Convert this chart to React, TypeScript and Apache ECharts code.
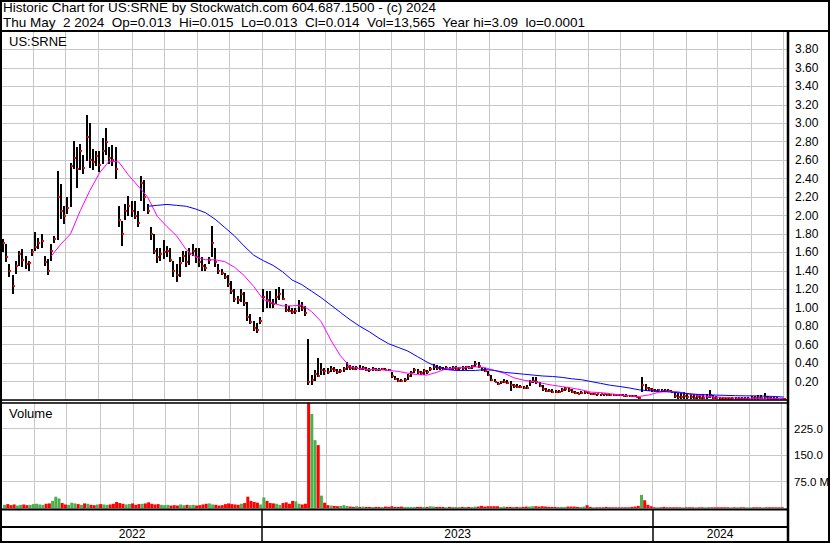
import React, { useEffect, useRef } from 'react';
import * as echarts from 'echarts';

// ---------- texts ----------
const headerLine1 = 'Historic Chart for US:SRNE by Stockwatch.com 604.687.1500 - (c) 2024';
const headerLine2 =
  'Thu May\u00a0 2 2024\u00a0 Op=0.013\u00a0 Hi=0.015\u00a0 Lo=0.013\u00a0 Cl=0.014\u00a0 Vol=13,565\u00a0 Year hi=3.09\u00a0 lo=0.0001';
const symbolLabel = 'US:SRNE';
const volumeLabel = 'Volume';
const volumeUnit = 'M';

// ---------- time frame ----------
const axisStart = '2022-05-03';
const axisEnd = '2024-05-05';
const firstBarDate = '2022-05-04';
const barStepDays = 3;
const maStepBars = 3;
const years = [2022, 2023, 2024];
const monthStarts = [
  '2022-06-01', '2022-07-01', '2022-08-01', '2022-09-01', '2022-10-01', '2022-11-01', '2022-12-01',
  '2023-01-01', '2023-02-01', '2023-03-01', '2023-04-01', '2023-05-01', '2023-06-01', '2023-07-01',
  '2023-08-01', '2023-09-01', '2023-10-01', '2023-11-01', '2023-12-01', '2024-01-01', '2024-02-01',
  '2024-03-01', '2024-04-01', '2024-05-01',
];

// ---------- price bars (every 3 days) ----------
const highs = [
  1.74, 1.69, 1.47, 1.36, 1.51, 1.62, 1.64, 1.56, 1.51, 1.64,
  1.82, 1.76, 1.80, 1.56, 1.53, 1.69, 1.78, 2.48, 2.34, 2.10,
  2.20, 2.57, 2.81, 2.74, 2.77, 2.66, 3.09, 3.00, 2.72, 2.70,
  2.70, 2.84, 2.95, 2.74, 2.76, 2.74, 2.10, 1.94, 2.12, 2.21,
  2.16, 2.16, 2.05, 2.43, 2.39, 2.12, 1.87, 1.80, 1.65, 1.65,
  1.73, 1.67, 1.65, 1.51, 1.47, 1.55, 1.62, 1.62, 1.65, 1.69,
  1.65, 1.65, 1.55, 1.47, 1.55, 1.89, 1.65, 1.47, 1.42, 1.38,
  1.35, 1.29, 1.20, 1.13, 1.20, 1.17, 1.06, 0.93, 0.86, 0.84,
  0.90, 1.20, 1.18, 1.18, 1.10, 1.20, 1.22, 1.20, 1.04, 1.02,
  1.00, 1.00, 1.08, 1.06, 1.02, 0.66, 0.27, 0.32, 0.46, 0.40,
  0.35, 0.35, 0.37, 0.36, 0.34, 0.34, 0.36, 0.41, 0.38, 0.37,
  0.37, 0.38, 0.37, 0.36, 0.35, 0.36, 0.35, 0.35, 0.35, 0.35,
  0.34, 0.30, 0.26, 0.24, 0.23, 0.24, 0.28, 0.31, 0.35, 0.34,
  0.31, 0.34, 0.33, 0.36, 0.39, 0.38, 0.37, 0.36, 0.37, 0.36,
  0.37, 0.37, 0.36, 0.37, 0.37, 0.37, 0.38, 0.42, 0.41, 0.36,
  0.35, 0.31, 0.27, 0.23, 0.20, 0.21, 0.23, 0.22, 0.21, 0.17,
  0.17, 0.16, 0.15, 0.16, 0.22, 0.25, 0.25, 0.19, 0.16, 0.13,
  0.12, 0.12, 0.11, 0.11, 0.13, 0.14, 0.13, 0.12, 0.10, 0.09,
  0.10, 0.10, 0.09, 0.075, 0.075, 0.07, 0.07, 0.07, 0.07, 0.065,
  0.065, 0.06, 0.06, 0.06, 0.06, 0.055, 0.05, 0.05, 0.03, 0.25,
  0.17, 0.14, 0.13, 0.12, 0.12, 0.12, 0.12, 0.12, 0.11, 0.09,
  0.08, 0.08, 0.09, 0.08, 0.07, 0.07, 0.07, 0.06, 0.06, 0.06,
  0.11, 0.05, 0.04, 0.035, 0.035, 0.03, 0.03, 0.03, 0.03, 0.03,
  0.035, 0.03, 0.035, 0.04, 0.045, 0.05, 0.05, 0.08, 0.04, 0.035,
  0.03, 0.03, 0.025, 0.02,
];
const lows = [
  1.60, 1.50, 1.33, 1.15, 1.37, 1.45, 1.44, 1.42, 1.40, 1.56,
  1.62, 1.64, 1.65, 1.45, 1.35, 1.51, 1.70, 1.73, 1.96, 1.91,
  2.02, 2.09, 2.50, 2.30, 2.49, 2.45, 2.59, 2.52, 2.49, 2.54,
  2.47, 2.56, 2.66, 2.56, 2.54, 2.40, 1.88, 1.67, 1.95, 2.00,
  1.98, 1.96, 1.88, 2.16, 2.05, 2.02, 1.73, 1.58, 1.49, 1.51,
  1.53, 1.55, 1.50, 1.33, 1.28, 1.33, 1.50, 1.44, 1.46, 1.56,
  1.49, 1.44, 1.40, 1.40, 1.47, 1.55, 1.44, 1.37, 1.35, 1.31,
  1.22, 1.15, 1.06, 1.04, 1.06, 1.02, 0.86, 0.82, 0.75, 0.73,
  0.82, 0.95, 1.00, 1.00, 1.00, 1.04, 1.08, 1.08, 0.95, 0.95,
  0.93, 0.93, 0.95, 0.97, 0.91, 0.16, 0.16, 0.21, 0.25, 0.27,
  0.27, 0.28, 0.30, 0.30, 0.28, 0.29, 0.30, 0.32, 0.33, 0.32,
  0.32, 0.32, 0.32, 0.31, 0.30, 0.31, 0.31, 0.31, 0.32, 0.32,
  0.31, 0.24, 0.22, 0.20, 0.19, 0.20, 0.22, 0.25, 0.29, 0.28,
  0.27, 0.27, 0.28, 0.31, 0.33, 0.33, 0.33, 0.32, 0.33, 0.32,
  0.33, 0.33, 0.33, 0.33, 0.33, 0.34, 0.34, 0.36, 0.35, 0.31,
  0.30, 0.26, 0.21, 0.19, 0.16, 0.17, 0.18, 0.17, 0.10, 0.13,
  0.13, 0.13, 0.12, 0.12, 0.15, 0.18, 0.17, 0.14, 0.10, 0.09,
  0.09, 0.08, 0.08, 0.08, 0.09, 0.10, 0.09, 0.08, 0.07, 0.06,
  0.07, 0.07, 0.07, 0.055, 0.055, 0.055, 0.055, 0.05, 0.05, 0.045,
  0.045, 0.045, 0.04, 0.04, 0.035, 0.035, 0.03, 0.03, 0.01, 0.09,
  0.10, 0.10, 0.09, 0.09, 0.09, 0.09, 0.09, 0.085, 0.085, 0.02,
  0.01, 0.01, 0.01, 0.01, 0.01, 0.01, 0.01, 0.01, 0.01, 0.01,
  0.02, 0.01, 0.01, 0.005, 0.005, 0.005, 0.005, 0.005, 0.005, 0.005,
  0.005, 0.005, 0.005, 0.005, 0.005, 0.005, 0.01, 0.01, 0.005, 0.005,
  0.005, 0.005, 0.005, 0.005,
];
const closes = [
  1.70, 1.55, 1.40, 1.24, 1.45, 1.58, 1.52, 1.47, 1.48, 1.60,
  1.66, 1.70, 1.72, 1.50, 1.40, 1.62, 1.74, 2.20, 2.05, 2.00,
  2.08, 2.54, 2.62, 2.50, 2.70, 2.52, 2.85, 2.60, 2.58, 2.65,
  2.55, 2.70, 2.80, 2.62, 2.60, 2.50, 1.95, 1.80, 2.05, 2.10,
  2.05, 2.00, 1.92, 2.35, 2.20, 2.05, 1.80, 1.62, 1.55, 1.58,
  1.60, 1.62, 1.52, 1.40, 1.35, 1.48, 1.56, 1.50, 1.58, 1.62,
  1.55, 1.50, 1.45, 1.43, 1.52, 1.70, 1.50, 1.40, 1.38, 1.33,
  1.26, 1.18, 1.10, 1.08, 1.15, 1.05, 0.90, 0.85, 0.78, 0.76,
  0.86, 1.12, 1.08, 1.05, 1.04, 1.12, 1.15, 1.10, 0.98, 0.97,
  0.95, 0.96, 1.02, 1.00, 0.94, 0.20, 0.22, 0.28, 0.26, 0.33,
  0.31, 0.30, 0.34, 0.32, 0.30, 0.31, 0.34, 0.36, 0.35, 0.34,
  0.35, 0.34, 0.35, 0.33, 0.32, 0.34, 0.33, 0.33, 0.34, 0.33,
  0.32, 0.26, 0.23, 0.21, 0.21, 0.22, 0.26, 0.29, 0.32, 0.30,
  0.29, 0.31, 0.30, 0.34, 0.36, 0.35, 0.35, 0.34, 0.35, 0.34,
  0.35, 0.34, 0.35, 0.35, 0.36, 0.35, 0.37, 0.39, 0.37, 0.33,
  0.31, 0.27, 0.22, 0.20, 0.17, 0.19, 0.20, 0.18, 0.16, 0.15,
  0.14, 0.14, 0.13, 0.13, 0.19, 0.21, 0.19, 0.15, 0.12, 0.10,
  0.10, 0.09, 0.09, 0.09, 0.11, 0.12, 0.11, 0.09, 0.08, 0.07,
  0.08, 0.09, 0.08, 0.06, 0.065, 0.06, 0.06, 0.06, 0.055, 0.055,
  0.05, 0.05, 0.05, 0.045, 0.045, 0.04, 0.04, 0.035, 0.02, 0.16,
  0.13, 0.12, 0.11, 0.10, 0.11, 0.10, 0.10, 0.10, 0.09, 0.04,
  0.03, 0.03, 0.04, 0.03, 0.03, 0.02, 0.03, 0.02, 0.02, 0.03,
  0.05, 0.02, 0.02, 0.015, 0.015, 0.015, 0.01, 0.015, 0.01, 0.015,
  0.015, 0.01, 0.015, 0.02, 0.02, 0.02, 0.02, 0.03, 0.02, 0.015,
  0.015, 0.015, 0.015, 0.014,
];
// volume, millions of shares
const volumes = [
  9, 11, 8, 10, 7, 9, 10, 8, 9, 11,
  12, 10, 9, 12, 13, 20, 32, 27, 14, 10,
  9, 15, 13, 11, 9, 13, 12, 9, 8, 10,
  11, 10, 9, 10, 12, 17, 14, 12, 10, 11,
  13, 9, 11, 12, 13, 16, 12, 10, 11, 9,
  8, 9, 7, 8, 7, 10, 8, 9, 8, 9,
  7, 8, 10, 12, 13, 10, 9, 7, 8, 11,
  13, 11, 10, 9, 12, 14, 32, 20, 17, 15,
  10, 30, 20, 14, 13, 12, 9, 14, 16, 12,
  20, 19, 12, 10, 12, 298, 266, 192, 178, 35,
  15, 8, 7, 6, 5, 6, 8, 6, 4, 3,
  5, 3, 4, 3, 3, 3, 3, 3, 3, 4,
  3, 5, 3, 3, 4, 3, 3, 3, 3, 3,
  3, 3, 3, 5, 4, 3, 3, 3, 2, 3,
  3, 2, 3, 3, 3, 3, 3, 4, 4, 6,
  4, 5, 5, 5, 5, 3, 4, 3, 3, 2,
  3, 2, 3, 4, 4, 5, 5, 4, 5, 4,
  3, 3, 3, 2, 3, 3, 4, 4, 4, 3,
  3, 4, 8, 3, 2, 2, 2, 2, 3, 2,
  2, 2, 2, 2, 2, 2, 3, 4, 6, 37,
  22, 9, 5, 2, 2, 2, 3, 2, 2, 2,
  2, 2, 2, 2, 2, 2, 2, 2, 2, 2,
  3, 2, 2, 2, 2, 2, 2, 2, 2, 2,
  2, 2, 2, 2, 2, 2, 2, 2, 2, 2,
  2, 2, 2, 2,
];

// ---------- moving averages (one value every 3 bars) ----------
const maShort = [
  null, null, null, null, null, 1.56, 1.69, 1.80, 2.05, 2.27,
  2.46, 2.59, 2.58, 2.44, 2.32, 2.20, 1.99, 1.88, 1.78, 1.63,
  1.55, 1.52, 1.52, 1.50, 1.44, 1.35, 1.23, 1.09, 1.05, 1.02,
  1.02, 1.03, 0.96, 0.85, 0.65, 0.48, 0.36, 0.34, 0.33, 0.33,
  0.32, 0.31, 0.29, 0.275, 0.27, 0.30, 0.34, 0.35, 0.35, 0.36,
  0.35, 0.32, 0.29, 0.24, 0.215, 0.20, 0.18, 0.16, 0.145, 0.13,
  0.11, 0.085, 0.08, 0.068, 0.056, 0.045, 0.038, 0.055, 0.083, 0.093,
  0.09, 0.067, 0.052, 0.04, 0.032, 0.027, 0.022, 0.02, 0.02, 0.02,
  0.018, 0.016,
];
const maLong = [
  null, null, null, null, null, null, null, null, null, null,
  null, null, null, null, null, 2.10, 2.11, 2.12, 2.11, 2.10,
  2.07, 2.03, 1.96, 1.87, 1.78, 1.67, 1.57, 1.51, 1.46, 1.39,
  1.30, 1.25, 1.18, 1.11, 1.03, 0.95, 0.87, 0.80, 0.74, 0.67,
  0.61, 0.57, 0.53, 0.47, 0.41, 0.36, 0.33, 0.32, 0.32, 0.32,
  0.33, 0.32, 0.30, 0.29, 0.28, 0.27, 0.26, 0.255, 0.245, 0.23,
  0.22, 0.20, 0.18, 0.16, 0.146, 0.13, 0.11, 0.10, 0.096, 0.088,
  0.08, 0.07, 0.061, 0.057, 0.053, 0.05, 0.047, 0.045, 0.045, 0.042,
  0.038, 0.032,
];

// ---------- axis ticks ----------
const priceMax = 4;
const priceStep = 0.2;
const volMax = 300;
const volStep = 75;

const FONT = 'Arial, "Liberation Sans", sans-serif';
const GRID_COLOR = '#c8c8c8';

const addDays = (s: string, n: number) => {
  const [y, m, d] = s.split('-').map(Number);
  return new Date(y, m - 1, d + n).getTime();
};

export default function App() {
  const ref = useRef<HTMLDivElement>(null);

  useEffect(() => {
    if (!ref.current) return;
    const chart = echarts.init(ref.current, undefined, { renderer: 'svg' });

    const axisMin = addDays(axisStart, 0);
    const axisMax = addDays(axisEnd, 0);
    const barTs = highs.map((_, i) => addDays(firstBarDate, i * barStepDays));
    const monthTs = monthStarts.map((s) => addDays(s, 0));

    const ohlcData = barTs.map((t, i) => [t, highs[i], lows[i], closes[i]]);
    const volData = barTs.map((t, i) => [t, volumes[i]]);
    const maShortData = maShort.map((v, k) => [barTs[k * maStepBars], v == null ? '-' : v]);
    const maLongData = maLong.map((v, k) => [barTs[k * maStepBars], v == null ? '-' : v]);

    const gridLineSeries = (idx: number, top: number) => ({
      type: 'custom',
      xAxisIndex: idx,
      yAxisIndex: idx,
      silent: true,
      z: 1,
      clip: false,
      data: monthTs.map((t) => [t, 0]),
      renderItem: (_p: any, api: any) => {
        const a = api.coord([api.value(0), top]);
        const b = api.coord([api.value(0), 0]);
        const x = Math.round(a[0]) + 0.5;
        return {
          type: 'line',
          shape: { x1: x, y1: a[1], x2: x, y2: b[1] },
          style: { stroke: GRID_COLOR, lineWidth: 1 },
        };
      },
    });

    const hLine = (x1: number, y1: number, x2: number, y2: number, w: number) => ({
      type: 'line',
      z: 100,
      silent: true,
      shape: { x1, y1, x2, y2 },
      style: { stroke: '#000', lineWidth: w },
    });

    const txt = (text: string, x: number, y: number, size: number) => ({
      type: 'text',
      z: 100,
      silent: true,
      x,
      y,
      style: {
        text,
        fill: '#000',
        font: `${size}px ${FONT}`,
        align: 'left',
        verticalAlign: 'middle',
        textAlign: 'left',
        textVerticalAlign: 'middle',
      },
    });

    const gridBase = { left: 2, right: 43, outerBoundsMode: 'none', containLabel: false };

    const option: any = {
      animation: false,
      backgroundColor: '#ffffff',
      grid: [
        { ...gridBase, top: 31, height: 369 },
        { ...gridBase, top: 402, height: 106 },
        { ...gridBase, top: 509, height: 33 },
      ],
      xAxis: [0, 1, 2].map((g) => ({
        type: 'time',
        gridIndex: g,
        min: axisMin,
        max: axisMax,
        show: false,
        splitLine: { show: false },
      })),
      yAxis: [
        {
          gridIndex: 0,
          type: 'value',
          position: 'right',
          min: 0,
          max: priceMax,
          interval: priceStep,
          axisLine: { show: false },
          axisTick: { show: false },
          splitLine: { show: true, lineStyle: { color: GRID_COLOR, width: 1 } },
          axisLabel: {
            margin: 8,
            color: '#000',
            fontSize: 12,
            fontFamily: FONT,
            hideOverlap: false,
            formatter: (v: number) => (v > 0.01 && v < priceMax - 0.01 ? v.toFixed(2) : ''),
          },
        },
        {
          gridIndex: 1,
          type: 'value',
          position: 'right',
          min: 0,
          max: volMax,
          interval: volStep,
          axisLine: { show: false },
          axisTick: { show: false },
          splitLine: { show: true, lineStyle: { color: GRID_COLOR, width: 1 } },
          axisLabel: {
            margin: 7,
            color: '#000',
            fontSize: 11.5,
            fontFamily: FONT,
            hideOverlap: false,
            formatter: (v: number) => {
              if (v <= 0 || v >= volMax) return '';
              return v === volStep ? `${v.toFixed(1)} ${volumeUnit}` : v.toFixed(1);
            },
          },
        },
        { gridIndex: 2, type: 'value', min: 0, max: 1, show: false },
      ],
      series: [
        gridLineSeries(0, priceMax),
        gridLineSeries(1, volMax),
        {
          type: 'custom',
          name: 'Price',
          xAxisIndex: 0,
          yAxisIndex: 0,
          z: 3,
          clip: true,
          silent: true,
          data: ohlcData,
          encode: { x: 0, y: [1, 2, 3] },
          renderItem: (_p: any, api: any) => {
            const t = api.value(0);
            const h = api.coord([t, api.value(1)]);
            const l = api.coord([t, api.value(2)]);
            const c = api.coord([t, api.value(3)]);
            const x = Math.round(h[0]);
            const y1 = Math.round(h[1]);
            let y2 = Math.round(l[1]);
            if (y2 - y1 < 2) y2 = y1 + 2;
            const cy = Math.round(c[1]);
            return {
              type: 'group',
              children: [
                { type: 'rect', shape: { x: x - 1, y: y1, width: 2, height: y2 - y1 }, style: { fill: '#000' } },
                { type: 'rect', shape: { x: x, y: cy - 1, width: 2, height: 2 }, style: { fill: '#ff0000' } },
              ],
            };
          },
        },
        {
          type: 'line',
          name: 'MA short',
          xAxisIndex: 0,
          yAxisIndex: 0,
          z: 4,
          showSymbol: false,
          silent: true,
          connectNulls: false,
          data: maShortData,
          lineStyle: { color: '#ff00ff', width: 1 },
        },
        {
          type: 'line',
          name: 'MA long',
          xAxisIndex: 0,
          yAxisIndex: 0,
          z: 4,
          showSymbol: false,
          silent: true,
          data: maLongData,
          lineStyle: { color: '#0000ff', width: 1 },
        },
        {
          type: 'bar',
          name: 'Volume',
          xAxisIndex: 1,
          yAxisIndex: 1,
          z: 2,
          silent: true,
          barWidth: 3,
          data: volData,
          itemStyle: {
            color: (p: any) => {
              const i = p.dataIndex;
              if (i === 0) return '#4caf50';
              return closes[i] > closes[i - 1] ? '#4caf50' : '#ff0000';
            },
          },
        },
        {
          type: 'custom',
          name: 'Years',
          xAxisIndex: 2,
          yAxisIndex: 2,
          z: 5,
          clip: false,
          silent: true,
          data: years.map((y) => [new Date(y, 6, 1).getTime(), y]),
          renderItem: (_p: any, api: any) => {
            const yr = api.value(1);
            const yStart = new Date(yr, 0, 1).getTime();
            const s = Math.max(yStart, axisMin);
            const e = Math.min(new Date(yr + 1, 0, 1).getTime(), axisMax);
            const ps = api.coord([s, 0.23]);
            const pe = api.coord([e, 0.23]);
            const children: any[] = [
              {
                type: 'text',
                x: (ps[0] + pe[0]) / 2,
                y: ps[1],
                style: {
                  text: String(yr),
                  fill: '#000',
                  font: `12px ${FONT}`,
                  align: 'center',
                  verticalAlign: 'middle',
                  textAlign: 'center',
                  textVerticalAlign: 'middle',
                },
              },
            ];
            if (yStart > axisMin) {
              const top = api.coord([yStart, 1]);
              const bot = api.coord([yStart, 0]);
              const x = Math.round(top[0]);
              children.push({
                type: 'line',
                shape: { x1: x, y1: top[1], x2: x, y2: bot[1] },
                style: { stroke: '#000', lineWidth: 1.5 },
              });
            }
            return { type: 'group', children };
          },
        },
      ],
      graphic: [
        {
          type: 'rect',
          z: 100,
          silent: true,
          shape: { x: 1, y: 1, width: 828, height: 541 },
          style: { fill: 'none', stroke: '#000', lineWidth: 2 },
        },
        hLine(0, 31, 830, 31, 2),
        hLine(788, 31, 788, 543, 2.5),
        hLine(0, 400, 788, 400, 1.5),
        hLine(0, 403, 788, 403, 1.5),
        hLine(0, 509.5, 788, 509.5, 2),
        hLine(0, 527, 788, 527, 2),
        txt(headerLine1, 3, 7, 13.5),
        txt(headerLine2, 3, 22, 13.5),
        txt(symbolLabel, 9, 41.5, 13),
        txt(volumeLabel, 9, 413, 13),
      ],
    };

    chart.setOption(option);
    return () => chart.dispose();
  }, []);

  return (
    <div
      ref={ref}
      style={{ position: 'fixed', left: 0, top: 0, width: 830, height: 543, background: '#fff' }}
    />
  );
}
